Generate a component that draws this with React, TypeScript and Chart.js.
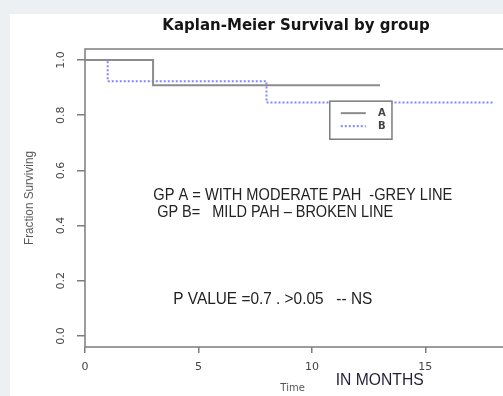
import React, { useEffect, useRef } from "react";
import { Chart, registerables } from "chart.js";

Chart.register(...registerables);

// ---- data ----
const timeA = [0, 3, 13];
const survA = [1.0, 0.909, 0.909];
const timeB = [0, 1, 8, 18];
const survB = [1.0, 0.923, 0.846, 0.846];
const groupLabels = ["A", "B"];
const xTickValues = [0, 5, 10, 15];
const yTickValues = [0, 0.2, 0.4, 0.6, 0.8, 1.0];
const yTickLabels = ["0.0", "0.2", "0.4", "0.6", "0.8", "1.0"];
const chartTitle = "Kaplan-Meier Survival by group";
const xAxisTitle = "Time";
const xUnitNote = "IN MONTHS";
const yAxisTitle = "Fraction Surviving";
const noteLines = [
  "GP A = WITH MODERATE PAH  -GREY LINE",
  "GP B=   MILD PAH \u2013 BROKEN LINE",
  "P VALUE =0.7 . >0.05   -- NS",
];

// ---- styles ----
const GREY = "#8c8c8c";
const BLUE = "#8585ff";
const AXIS = "#7c7c7c";
const NOTE_FONT = "'Liberation Sans Narrow', 'Liberation Sans', Arial, sans-serif";

const decor = {
  id: "decor",
  afterDraw(chart: any) {
    const { ctx, chartArea: ca, scales } = chart;
    const xs = scales.x;
    const ys = scales.y;
    ctx.save();

    // plot box
    ctx.strokeStyle = AXIS;
    ctx.lineWidth = 1.5;
    ctx.strokeRect(ca.left, ca.top, ca.right - ca.left, ca.bottom - ca.top);

    // title
    ctx.fillStyle = "#151515";
    ctx.font = "bold 15px 'DejaVu Sans'";
    ctx.textAlign = "center";
    ctx.textBaseline = "middle";
    ctx.fillText(chartTitle, (ca.left + ca.right) / 2, 12, 270);

    // rotated y tick labels
    ctx.font = "11px 'DejaVu Sans'";
    ctx.fillStyle = "#444";
    yTickValues.forEach((v, i) => {
      const py = ys.getPixelForValue(v);
      ctx.save();
      ctx.translate(ca.left - 24, py);
      ctx.rotate(-Math.PI / 2);
      ctx.fillText(yTickLabels[i], 0, 0);
      ctx.restore();
    });

    // y axis title
    ctx.save();
    ctx.font = "12px " + NOTE_FONT;
    ctx.fillStyle = "#5a5a5a";
    ctx.translate(20, (ca.top + ca.bottom) / 2);
    ctx.rotate(-Math.PI / 2);
    ctx.fillText(yAxisTitle, 0, 0, 94);
    ctx.restore();

    // x axis title + unit note
    ctx.font = "10px 'DejaVu Sans'";
    ctx.fillStyle = "#555";
    ctx.fillText(xAxisTitle, xs.getPixelForValue(9.15), 374);
    ctx.font = "17px " + NOTE_FONT;
    ctx.fillStyle = "#231f3a";
    ctx.textAlign = "left";
    ctx.fillText(xUnitNote, xs.getPixelForValue(11.05), 366, 88);

    // annotation notes
    ctx.fillStyle = "#222";
    ctx.font = "17px " + NOTE_FONT;
    const notePos = [
      [3.01, 0.51, 299],
      [3.18, 0.449, 236],
      [3.89, 0.133, 199],
    ];
    noteLines.forEach((t, i) => {
      const [nx, ny, w] = notePos[i];
      ctx.fillText(t, xs.getPixelForValue(nx), ys.getPixelForValue(ny), w);
    });

    // legend box
    const lx0 = xs.getPixelForValue(10.79);
    const lx1 = xs.getPixelForValue(13.53);
    const ly0 = ys.getPixelForValue(0.851);
    const ly1 = ys.getPixelForValue(0.713);
    ctx.fillStyle = "#fff";
    ctx.fillRect(lx0, ly0, lx1 - lx0, ly1 - ly0);
    ctx.strokeStyle = AXIS;
    ctx.lineWidth = 1.5;
    ctx.strokeRect(lx0, ly0, lx1 - lx0, ly1 - ly0);
    const rowY = [ly0 + 12, ly0 + 25];
    const colors = [GREY, BLUE];
    const dashes = [[], [2, 2]];
    groupLabels.forEach((g, i) => {
      ctx.strokeStyle = colors[i];
      ctx.lineWidth = 2;
      ctx.setLineDash(dashes[i]);
      ctx.beginPath();
      ctx.moveTo(lx0 + 11, rowY[i]);
      ctx.lineTo(lx0 + 36, rowY[i]);
      ctx.stroke();
      ctx.setLineDash([]);
      ctx.fillStyle = "#444";
      ctx.font = "bold 10px 'DejaVu Sans'";
      ctx.textAlign = "center";
      ctx.fillText(g, lx0 + 52, rowY[i]);
    });

    ctx.restore();
  },
};

export default function App() {
  const ref = useRef<HTMLCanvasElement | null>(null);

  useEffect(() => {
    if (!ref.current) return;
    const chart = new Chart(ref.current, {
      type: "line",
      data: {
        datasets: [
          {
            label: groupLabels[0],
            data: timeA.map((t, i) => ({ x: t, y: survA[i] })),
            borderColor: GREY,
            borderWidth: 2,
            stepped: true,
            pointRadius: 0,
            fill: false,
          },
          {
            label: groupLabels[1],
            data: timeB.map((t, i) => ({ x: t, y: survB[i] })),
            borderColor: BLUE,
            borderWidth: 2,
            borderDash: [2, 2],
            stepped: true,
            pointRadius: 0,
            fill: false,
          },
        ],
      },
      options: {
        animation: false,
        responsive: false,
        devicePixelRatio: 1,
        layout: { padding: { top: 35, left: 0, right: 0, bottom: 0 } },
        plugins: {
          legend: { display: false },
          title: { display: false },
          tooltip: { enabled: false },
        },
        scales: {
          x: {
            type: "linear",
            min: 0,
            max: 18.6,
            afterBuildTicks: (s: any) => {
              s.ticks = xTickValues.map((v) => ({ value: v }));
            },
            afterFit: (s: any) => {
              s.height = 49;
            },
            grid: {
              drawOnChartArea: false,
              drawTicks: true,
              tickLength: 6,
              color: AXIS,
              lineWidth: 1.5,
            },
            border: { display: false },
            ticks: {
              color: "#444",
              font: { family: "DejaVu Sans", size: 11 },
              padding: 8,
              maxRotation: 0,
              autoSkip: false,
              callback: (v: any) => String(v),
            },
          },
          y: {
            type: "linear",
            min: -0.04,
            max: 1.04,
            afterBuildTicks: (s: any) => {
              s.ticks = yTickValues.map((v) => ({ value: v }));
            },
            afterFit: (s: any) => {
              s.width = 75;
            },
            grid: {
              drawOnChartArea: false,
              drawTicks: true,
              tickLength: 8,
              color: AXIS,
              lineWidth: 1.5,
            },
            border: { display: false },
            ticks: { display: false },
          },
        },
      },
      plugins: [decor],
    });
    return () => chart.destroy();
  }, []);

  return (
    <div
      style={{
        position: "fixed",
        left: 0,
        top: 0,
        width: 503,
        height: 396,
        background: "#edf0f2",
        overflow: "hidden",
      }}
    >
      <div
        style={{
          position: "absolute",
          left: 10,
          top: 14,
          width: 497,
          height: 382,
          background: "#fff",
        }}
      >
        <canvas
          ref={ref}
          width={497}
          height={382}
          style={{ display: "block", width: 497, height: 382 }}
        />
      </div>
    </div>
  );
}
